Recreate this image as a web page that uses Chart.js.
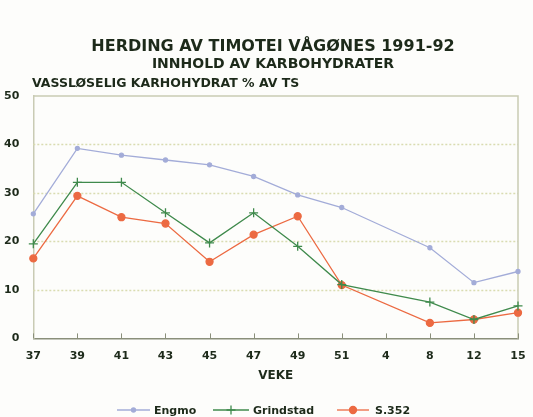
<!DOCTYPE html>
<html>
<head>
<meta charset="utf-8">
<script src="https://cdn.jsdelivr.net/npm/chart.js@4.4.1/dist/chart.umd.min.js"></script>
<style>
  html, body { margin: 0; padding: 0; background: #fdfdfb; }
  #wrap { position: relative; width: 533px; height: 417px; }
</style>
</head>
<body>
<div id="wrap"><canvas id="chart" width="533" height="417"></canvas></div>
<script>
const weeks = ['37', '39', '41', '43', '45', '47', '49', '51', '4', '8', '12', '15'];
const engmo = [25.7, 39.2, 37.8, 36.8, 35.8, 33.4, 29.6, 27, null, 18.7, 11.5, 13.8];
const grindstad = [19.5, 32.2, 32.2, 25.9, 19.7, 25.9, 19, 11.1, null, 7.5, 3.9, 6.7];
const s352 = [16.5, 29.4, 25, 23.7, 15.8, 21.4, 25.2, 11, null, 3.2, 3.9, 5.3];
const yTicks = [0, 10, 20, 30, 40, 50];

const ink = '#1d2a1a';
const font = 'DejaVu Sans, Verdana, sans-serif';

const series = [
  { label: 'Engmo', data: engmo, color: '#a3acd8', style: 'circle', radius: 2 },
  { label: 'Grindstad', data: grindstad, color: '#3f8a4c', style: 'cross', radius: 4.5 },
  { label: 'S.352', data: s352, color: '#ec6a42', style: 'circle', radius: 3.5 }
];

const decor = {
  id: 'decor',
  beforeDatasetsDraw(chart) {
    const { ctx, chartArea: a, scales } = chart;
    ctx.save();
    // dotted grid
    ctx.strokeStyle = '#d9dcb0';
    ctx.lineWidth = 1.5;
    ctx.setLineDash([2, 2]);
    yTicks.slice(1, -1).forEach(v => {
      const y = Math.round(scales.y.getPixelForValue(v)) + 0.5;
      ctx.beginPath(); ctx.moveTo(a.left, y); ctx.lineTo(a.right, y); ctx.stroke();
    });
    ctx.setLineDash([]);
    // frame top / right
    ctx.strokeStyle = '#c9cbb4';
    ctx.lineWidth = 1.5;
    ctx.beginPath();
    ctx.moveTo(a.left, a.top); ctx.lineTo(a.right, a.top); ctx.lineTo(a.right, a.bottom);
    ctx.stroke();
    // inward ticks on x axis
    ctx.strokeStyle = '#8a8f7a';
    ctx.lineWidth = 1;
    weeks.forEach((w, i) => {
      const x = Math.round(scales.x.getPixelForValue(i)) + 0.5;
      ctx.beginPath(); ctx.moveTo(x, a.bottom); ctx.lineTo(x, a.bottom - 5); ctx.stroke();
    });
    ctx.restore();
  },
  afterDraw(chart) {
    const { ctx } = chart;
    ctx.save();
    ctx.fillStyle = ink;
    ctx.textAlign = 'center';
    ctx.textBaseline = 'middle';
    ctx.font = 'bold 16px ' + font;
    ctx.fillText('HERDING AV TIMOTEI VÅGØNES 1991-92', 273, 47);
    ctx.font = 'bold 14px ' + font;
    ctx.fillText('INNHOLD AV KARBOHYDRATER', 273, 64);
    ctx.textAlign = 'left';
    ctx.font = 'bold 12.5px ' + font;
    ctx.fillText('VASSLØSELIG KARHOHYDRAT % AV TS', 32, 84);

    // legend
    const items = [
      { s: series[0], x0: 117, x1: 150, tx: 154 },
      { s: series[1], x0: 213, x1: 249, tx: 253 },
      { s: series[2], x0: 337, x1: 369, tx: 375 }
    ];
    const ly = 410;
    ctx.font = 'bold 11px ' + font;
    items.forEach(it => {
      ctx.strokeStyle = it.s.color;
      ctx.fillStyle = it.s.color;
      ctx.lineWidth = 1.3;
      ctx.beginPath(); ctx.moveTo(it.x0, ly); ctx.lineTo(it.x1, ly); ctx.stroke();
      Chart.helpers.drawPoint(ctx, {
        pointStyle: it.s.style, radius: it.s.radius, borderWidth: 1.3
      }, (it.x0 + it.x1) / 2, ly);
      ctx.fillStyle = ink;
      ctx.fillText(it.s.label, it.tx, ly + 1);
    });
    ctx.restore();
  }
};

new Chart(document.getElementById('chart'), {
  type: 'line',
  data: {
    labels: weeks,
    datasets: series.map(s => ({
      label: s.label,
      data: s.data,
      borderColor: s.color,
      backgroundColor: s.color,
      pointBorderColor: s.color,
      pointBackgroundColor: s.color,
      pointStyle: s.style,
      pointRadius: s.radius,
      pointBorderWidth: 1.3,
      borderWidth: 1.3,
      tension: 0,
      spanGaps: true
    }))
  },
  options: {
    responsive: false,
    animation: false,
    layout: { padding: { top: 96, left: -2, right: 15, bottom: 30 } },
    plugins: { legend: { display: false }, tooltip: { enabled: false } },
    scales: {
      x: {
        offset: false,
        grid: { display: false },
        border: { color: '#8a8f7a', width: 1.5 },
        ticks: {
          color: ink, font: { family: font, size: 11, weight: 'bold' },
          maxRotation: 0, autoSkip: false, padding: 3
        },
        title: {
          display: true, text: 'VEKE', color: ink,
          font: { family: font, size: 12, weight: 'bold' }, padding: { top: 3 }
        }
      },
      y: {
        min: 0, max: 50,
        afterBuildTicks: axis => { axis.ticks = yTicks.map(v => ({ value: v })); },
        grid: { display: false },
        border: { color: '#c9cbb4', width: 1.5 },
        ticks: {
          color: ink, font: { family: font, size: 11, weight: 'bold' }, padding: 6
        }
      }
    }
  },
  plugins: [decor]
});
</script>
</body>
</html>
